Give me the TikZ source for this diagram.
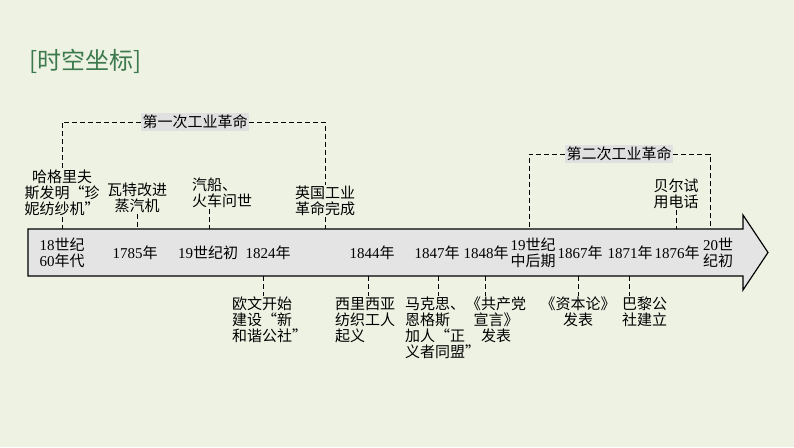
\documentclass[tikz,border=0pt]{standalone}
\usepackage{fontspec}
\setmainfont{Liberation Serif}
\newfontfamily\cjk{Noto Sans CJK SC}
\usepackage{xcolor}
\usepackage{tikz}
\usetikzlibrary{positioning}

\definecolor{bggreen}{HTML}{EDF2E3}
\definecolor{titlegreen}{HTML}{3C7A4E}
\definecolor{axisgray}{HTML}{E4E4E4}
\definecolor{taggray}{HTML}{E0E0E0}
\newcommand\nm[1]{{\rmfamily #1}}

\begin{document}
\begin{tikzpicture}[
    x=1pt, y=-1pt,
    label/.style={font=\cjk\fontsize{15}{16}\selectfont, inner sep=1pt, align=center},
    year/.style={label},
    tick/.style={line width=0.9pt, dash pattern=on 5pt off 3pt},
    tag/.style={label, fill=taggray, inner sep=1.5pt},
    axis/.style={draw, line width=1.2pt, fill=axisgray}
]
    \fill[bggreen] (0,0) rectangle (794,447);
    \node[font=\cjk\fontsize{24}{28}\selectfont, text=titlegreen, anchor=west, inner sep=0] (title) at (29,61) {[时空坐标]};

    % time axis
    \draw[axis] (28,229) -- (743,229) -- (743,215) -- (768,252.5) -- (743,290) -- (743,276) -- (28,276) -- cycle;
    \coordinate (top) at (0,229);
    \coordinate (bot) at (0,276);

    \node[year] (y1) at (62,252.5) {\nm{18}世纪\\\nm{60}年代};
    \node[year] (y2) at (135,252.5) {\nm{1785}年};
    \node[year] (y3) at (208,252.5) {\nm{19}世纪初};
    \node[year] (y4) at (268,252.5) {\nm{1824}年};
    \node[year] (y5) at (372,252.5) {\nm{1844}年};
    \node[year] (y6) at (437,252.5) {\nm{1847}年};
    \node[year] (y7) at (486,252.5) {\nm{1848}年};
    \node[year] (y8) at (533,252.5) {\nm{19}世纪\\中后期};
    \node[year] (y9) at (580,252.5) {\nm{1867}年};
    \node[year] (y10) at (630,252.5) {\nm{1871}年};
    \node[year] (y11) at (677,252.5) {\nm{1876}年};
    \node[year] (y12) at (718,252.5) {\nm{20}世\\纪初};

    % events above
    \node[label] (hg) at (62,193) {哈格里夫\\斯发明“珍\\妮纺纱机”};
    \node[label] (wt) at (137,198) {瓦特改进\\蒸汽机};
    \node[label, align=left, anchor=west] (qc) at (191,193) {汽船、\\火车问世};
    \node[label] (yg) at (325,201) {英国工业\\革命完成};
    \node[label] (bell) at (676,194) {贝尔试\\用电话};

    \draw[tick] (hg.south) -- (hg.south |- top);
    \draw[tick] (wt.south) -- (wt.south |- top);
    \draw[tick] ([xshift=18pt]qc.south west) -- ([xshift=18pt]qc.south west |- top);
    \draw[tick] (yg.south) -- (yg.south |- top);
    \draw[tick] (bell.south) -- (bell.south |- top);

    % first industrial revolution
    \node[tag] (rev1) at (195,122) {第一次工业革命};
    \draw[tick] (rev1.west) -| (hg.north);
    \draw[tick] (rev1.east) -| (yg.north);

    % second industrial revolution
    \node[tag] (rev2) at (619,154) {第二次工业革命};
    \coordinate (s2) at (529,229);
    \coordinate (e2) at (710,229);
    \draw[tick] (rev2.west) -| (s2);
    \draw[tick] (rev2.east) -| (e2);

    % events below
    \node[label, align=left, anchor=north west] (ow) at (231,296) {欧文开始\\建设“新\\和谐公社”};
    \node[label, align=left, anchor=north west] (xl) at (334,296) {西里西亚\\纺织工人\\起义};
    \node[label, align=left, anchor=north west] (mk) at (404,296) {马克思、\\恩格斯\\加人“正\\义者同盟”};
    \node[label, anchor=north] (gc) at (496,296) {《共产党\\宣言》\\发表};
    \node[label, anchor=north] (zb) at (578,296) {《资本论》\\发表};
    \node[label, align=left, anchor=north west] (bl) at (621,296) {巴黎公\\社建立};

    \coordinate (t-ow) at (263,276);
    \coordinate (t-xl) at (368,276);
    \coordinate (t-mk) at (438,276);
    \coordinate (t-gc) at (485,276);
    \coordinate (t-zb) at (578,276);
    \coordinate (t-bl) at (629,276);
    \foreach \e in {ow,xl,mk,gc,zb,bl}
        \draw[tick] (t-\e) -- (t-\e |- \e.north);
\end{tikzpicture}
\end{document}
